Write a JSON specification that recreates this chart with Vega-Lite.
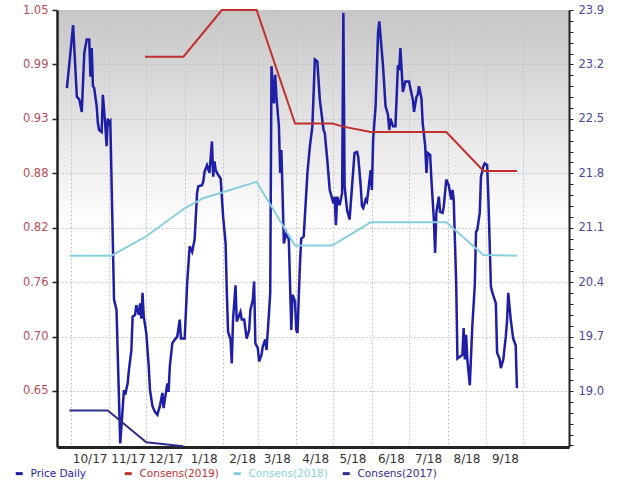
{
  "$schema": "https://vega.github.io/schema/vega-lite/v6.json",
  "width": 512,
  "height": 437,
  "autosize": {"type": "none"},
  "padding": {"left": 57, "top": 10, "right": 51, "bottom": 42},
  "background": "#ffffff",
  "config": {
    "view": {"stroke": null, "fill": {"gradient": "linear", "x1": 0, "y1": 0, "x2": 0, "y2": 1, "stops": [{"offset": 0, "color": "#c6c6c6"}, {"offset": 0.5, "color": "#ffffff"}, {"offset": 1, "color": "#ffffff"}]}},
    "font": "DejaVu Sans",
    "axis": {"labelFont": "DejaVu Sans", "labelFontSize": 11.5}
  },
  "datasets": {
    "price": [
      {"date": "2017-09-28", "price": 0.968}, {"date": "2017-10-03", "price": 1.034}, {"date": "2017-10-06", "price": 0.959}, {"date": "2017-10-08", "price": 0.956}, {"date": "2017-10-10", "price": 0.943}, {"date": "2017-10-12", "price": 1.005}, {"date": "2017-10-14", "price": 1.019}, {"date": "2017-10-16", "price": 1.019}, {"date": "2017-10-17", "price": 0.980}, {"date": "2017-10-18", "price": 1.010}, {"date": "2017-10-19", "price": 0.970}, {"date": "2017-10-20", "price": 0.968}, {"date": "2017-10-22", "price": 0.949}, {"date": "2017-10-23", "price": 0.931}, {"date": "2017-10-24", "price": 0.924}, {"date": "2017-10-26", "price": 0.922}, {"date": "2017-10-27", "price": 0.961}, {"date": "2017-10-28", "price": 0.945}, {"date": "2017-10-29", "price": 0.928}, {"date": "2017-10-30", "price": 0.907}, {"date": "2017-10-31", "price": 0.936}, {"date": "2017-11-01", "price": 0.931}, {"date": "2017-11-02", "price": 0.933},
      {"date": "2017-11-05", "price": 0.746}, {"date": "2017-11-07", "price": 0.735}, {"date": "2017-11-10", "price": 0.595}, {"date": "2017-11-13", "price": 0.651}, {"date": "2017-11-14", "price": 0.646}, {"date": "2017-11-16", "price": 0.658}, {"date": "2017-11-17", "price": 0.672}, {"date": "2017-11-19", "price": 0.693}, {"date": "2017-11-20", "price": 0.728}, {"date": "2017-11-22", "price": 0.730}, {"date": "2017-11-23", "price": 0.740}, {"date": "2017-11-25", "price": 0.730}, {"date": "2017-11-26", "price": 0.742}, {"date": "2017-11-27", "price": 0.726}, {"date": "2017-11-28", "price": 0.753}, {"date": "2017-11-29", "price": 0.728},
      {"date": "2017-12-01", "price": 0.711}, {"date": "2017-12-03", "price": 0.676}, {"date": "2017-12-04", "price": 0.651}, {"date": "2017-12-06", "price": 0.634}, {"date": "2017-12-08", "price": 0.628}, {"date": "2017-12-10", "price": 0.625}, {"date": "2017-12-11", "price": 0.630}, {"date": "2017-12-12", "price": 0.634}, {"date": "2017-12-14", "price": 0.648}, {"date": "2017-12-15", "price": 0.632}, {"date": "2017-12-16", "price": 0.641}, {"date": "2017-12-18", "price": 0.658}, {"date": "2017-12-19", "price": 0.649}, {"date": "2017-12-20", "price": 0.676}, {"date": "2017-12-22", "price": 0.700}, {"date": "2017-12-24", "price": 0.704}, {"date": "2017-12-26", "price": 0.707}, {"date": "2017-12-28", "price": 0.725}, {"date": "2017-12-29", "price": 0.705}, {"date": "2017-12-31", "price": 0.705},
      {"date": "2018-01-01", "price": 0.705}, {"date": "2018-01-03", "price": 0.763}, {"date": "2018-01-05", "price": 0.802}, {"date": "2018-01-07", "price": 0.796}, {"date": "2018-01-09", "price": 0.809}, {"date": "2018-01-11", "price": 0.858}, {"date": "2018-01-12", "price": 0.865}, {"date": "2018-01-15", "price": 0.866}, {"date": "2018-01-16", "price": 0.870}, {"date": "2018-01-17", "price": 0.880}, {"date": "2018-01-19", "price": 0.887}, {"date": "2018-01-21", "price": 0.879}, {"date": "2018-01-23", "price": 0.912}, {"date": "2018-01-24", "price": 0.875}, {"date": "2018-01-25", "price": 0.891}, {"date": "2018-01-26", "price": 0.882}, {"date": "2018-01-28", "price": 0.877}, {"date": "2018-01-30", "price": 0.873},
      {"date": "2018-02-01", "price": 0.833}, {"date": "2018-02-03", "price": 0.805}, {"date": "2018-02-04", "price": 0.753}, {"date": "2018-02-05", "price": 0.712}, {"date": "2018-02-07", "price": 0.704}, {"date": "2018-02-08", "price": 0.679}, {"date": "2018-02-09", "price": 0.725}, {"date": "2018-02-11", "price": 0.761}, {"date": "2018-02-12", "price": 0.723}, {"date": "2018-02-15", "price": 0.733}, {"date": "2018-02-16", "price": 0.725}, {"date": "2018-02-18", "price": 0.725}, {"date": "2018-02-20", "price": 0.705}, {"date": "2018-02-22", "price": 0.714}, {"date": "2018-02-23", "price": 0.735}, {"date": "2018-02-25", "price": 0.746}, {"date": "2018-02-26", "price": 0.765}, {"date": "2018-02-27", "price": 0.700},
      {"date": "2018-03-01", "price": 0.695}, {"date": "2018-03-02", "price": 0.681}, {"date": "2018-03-04", "price": 0.688}, {"date": "2018-03-05", "price": 0.697}, {"date": "2018-03-07", "price": 0.704}, {"date": "2018-03-08", "price": 0.693}, {"date": "2018-03-10", "price": 0.732}, {"date": "2018-03-11", "price": 0.753}, {"date": "2018-03-12", "price": 0.991}, {"date": "2018-03-14", "price": 0.952}, {"date": "2018-03-15", "price": 0.982}, {"date": "2018-03-16", "price": 0.959}, {"date": "2018-03-18", "price": 0.928}, {"date": "2018-03-19", "price": 0.879}, {"date": "2018-03-20", "price": 0.903}, {"date": "2018-03-22", "price": 0.805}, {"date": "2018-03-24", "price": 0.816}, {"date": "2018-03-26", "price": 0.809}, {"date": "2018-03-28", "price": 0.714}, {"date": "2018-03-29", "price": 0.751}, {"date": "2018-03-31", "price": 0.744},
      {"date": "2018-04-01", "price": 0.714}, {"date": "2018-04-02", "price": 0.711}, {"date": "2018-04-04", "price": 0.784}, {"date": "2018-04-05", "price": 0.810}, {"date": "2018-04-07", "price": 0.812}, {"date": "2018-04-10", "price": 0.879}, {"date": "2018-04-12", "price": 0.907}, {"date": "2018-04-14", "price": 0.928}, {"date": "2018-04-16", "price": 0.998}, {"date": "2018-04-18", "price": 0.996}, {"date": "2018-04-20", "price": 0.956}, {"date": "2018-04-23", "price": 0.924}, {"date": "2018-04-24", "price": 0.921}, {"date": "2018-04-26", "price": 0.893}, {"date": "2018-04-28", "price": 0.861},
      {"date": "2018-05-01", "price": 0.847}, {"date": "2018-05-02", "price": 0.854}, {"date": "2018-05-03", "price": 0.824}, {"date": "2018-05-04", "price": 0.854}, {"date": "2018-05-06", "price": 0.845}, {"date": "2018-05-08", "price": 0.858}, {"date": "2018-05-09", "price": 1.047}, {"date": "2018-05-10", "price": 0.865}, {"date": "2018-05-12", "price": 0.840}, {"date": "2018-05-14", "price": 0.830}, {"date": "2018-05-16", "price": 0.865}, {"date": "2018-05-18", "price": 0.900}, {"date": "2018-05-20", "price": 0.901}, {"date": "2018-05-21", "price": 0.896}, {"date": "2018-05-23", "price": 0.865}, {"date": "2018-05-24", "price": 0.844}, {"date": "2018-05-25", "price": 0.842}, {"date": "2018-05-27", "price": 0.851}, {"date": "2018-05-28", "price": 0.849}, {"date": "2018-05-29", "price": 0.859}, {"date": "2018-05-31", "price": 0.882},
      {"date": "2018-06-01", "price": 0.861}, {"date": "2018-06-02", "price": 0.914}, {"date": "2018-06-04", "price": 0.949}, {"date": "2018-06-06", "price": 1.027}, {"date": "2018-06-07", "price": 1.038}, {"date": "2018-06-08", "price": 1.022}, {"date": "2018-06-10", "price": 0.991}, {"date": "2018-06-12", "price": 0.949}, {"date": "2018-06-14", "price": 0.940}, {"date": "2018-06-15", "price": 0.924}, {"date": "2018-06-16", "price": 0.936}, {"date": "2018-06-18", "price": 0.928}, {"date": "2018-06-20", "price": 0.928}, {"date": "2018-06-22", "price": 0.992}, {"date": "2018-06-23", "price": 0.987}, {"date": "2018-06-24", "price": 1.010}, {"date": "2018-06-26", "price": 0.964}, {"date": "2018-06-28", "price": 0.975},
      {"date": "2018-07-01", "price": 0.975}, {"date": "2018-07-02", "price": 0.968}, {"date": "2018-07-04", "price": 0.956}, {"date": "2018-07-05", "price": 0.943}, {"date": "2018-07-07", "price": 0.959}, {"date": "2018-07-08", "price": 0.961}, {"date": "2018-07-09", "price": 0.970}, {"date": "2018-07-11", "price": 0.957}, {"date": "2018-07-12", "price": 0.931}, {"date": "2018-07-14", "price": 0.907}, {"date": "2018-07-15", "price": 0.879}, {"date": "2018-07-16", "price": 0.900}, {"date": "2018-07-18", "price": 0.898}, {"date": "2018-07-19", "price": 0.872}, {"date": "2018-07-21", "price": 0.830}, {"date": "2018-07-22", "price": 0.795}, {"date": "2018-07-23", "price": 0.837}, {"date": "2018-07-25", "price": 0.854}, {"date": "2018-07-26", "price": 0.838}, {"date": "2018-07-28", "price": 0.837}, {"date": "2018-07-29", "price": 0.844}, {"date": "2018-07-31", "price": 0.872},
      {"date": "2018-08-02", "price": 0.866}, {"date": "2018-08-04", "price": 0.851}, {"date": "2018-08-05", "price": 0.861}, {"date": "2018-08-06", "price": 0.851}, {"date": "2018-08-08", "price": 0.763}, {"date": "2018-08-09", "price": 0.684}, {"date": "2018-08-11", "price": 0.686}, {"date": "2018-08-13", "price": 0.688}, {"date": "2018-08-14", "price": 0.716}, {"date": "2018-08-15", "price": 0.683}, {"date": "2018-08-16", "price": 0.709}, {"date": "2018-08-17", "price": 0.683}, {"date": "2018-08-19", "price": 0.656}, {"date": "2018-08-21", "price": 0.718}, {"date": "2018-08-23", "price": 0.761}, {"date": "2018-08-24", "price": 0.817}, {"date": "2018-08-25", "price": 0.819}, {"date": "2018-08-27", "price": 0.837}, {"date": "2018-08-28", "price": 0.875}, {"date": "2018-08-30", "price": 0.886}, {"date": "2018-08-31", "price": 0.889},
      {"date": "2018-09-02", "price": 0.887}, {"date": "2018-09-03", "price": 0.851}, {"date": "2018-09-05", "price": 0.760}, {"date": "2018-09-06", "price": 0.754}, {"date": "2018-09-09", "price": 0.742}, {"date": "2018-09-10", "price": 0.690}, {"date": "2018-09-12", "price": 0.684}, {"date": "2018-09-13", "price": 0.674}, {"date": "2018-09-15", "price": 0.683}, {"date": "2018-09-17", "price": 0.707}, {"date": "2018-09-18", "price": 0.723}, {"date": "2018-09-19", "price": 0.753}, {"date": "2018-09-21", "price": 0.725}, {"date": "2018-09-23", "price": 0.705}, {"date": "2018-09-25", "price": 0.698}, {"date": "2018-09-26", "price": 0.653}
    ],
    "consensus": [
      {"date": "2017-11-30", "series": "Consens(2019)", "value": 23.30}, {"date": "2017-12-31", "series": "Consens(2019)", "value": 23.30}, {"date": "2018-01-31", "series": "Consens(2019)", "value": 23.90}, {"date": "2018-02-28", "series": "Consens(2019)", "value": 23.90}, {"date": "2018-03-31", "series": "Consens(2019)", "value": 22.44}, {"date": "2018-04-30", "series": "Consens(2019)", "value": 22.44}, {"date": "2018-05-09", "series": "Consens(2019)", "value": 22.40}, {"date": "2018-05-31", "series": "Consens(2019)", "value": 22.33}, {"date": "2018-07-31", "series": "Consens(2019)", "value": 22.33}, {"date": "2018-08-30", "series": "Consens(2019)", "value": 21.83}, {"date": "2018-09-26", "series": "Consens(2019)", "value": 21.83},
      {"date": "2017-09-30", "series": "Consens(2018)", "value": 20.74}, {"date": "2017-11-03", "series": "Consens(2018)", "value": 20.74}, {"date": "2017-12-01", "series": "Consens(2018)", "value": 20.99}, {"date": "2018-01-01", "series": "Consens(2018)", "value": 21.35}, {"date": "2018-01-16", "series": "Consens(2018)", "value": 21.48}, {"date": "2018-02-28", "series": "Consens(2018)", "value": 21.69}, {"date": "2018-03-31", "series": "Consens(2018)", "value": 20.87}, {"date": "2018-04-30", "series": "Consens(2018)", "value": 20.87}, {"date": "2018-05-31", "series": "Consens(2018)", "value": 21.17}, {"date": "2018-07-31", "series": "Consens(2018)", "value": 21.17}, {"date": "2018-08-30", "series": "Consens(2018)", "value": 20.75}, {"date": "2018-09-26", "series": "Consens(2018)", "value": 20.74},
      {"date": "2017-09-30", "series": "Consens(2017)", "value": 18.75}, {"date": "2017-10-31", "series": "Consens(2017)", "value": 18.75}, {"date": "2017-12-01", "series": "Consens(2017)", "value": 18.34}, {"date": "2017-12-31", "series": "Consens(2017)", "value": 18.29}
    ]
  },
  "layer": [
    {
      "data": {"name": "price"},
      "mark": {"type": "line", "strokeWidth": 2.5},
      "encoding": {
        "x": {
          "field": "date", "type": "temporal",
          "scale": {"type": "utc", "nice": false, "domain": [{"year": 2017, "month": 9, "date": 20, "utc": true}, {"year": 2018, "month": 11, "date": 7, "utc": true}]},
          "axis": {
            "title": null,
            "values": [
              {"year": 2017, "month": 10, "date": 1, "utc": true}, {"year": 2017, "month": 11, "date": 1, "utc": true}, {"year": 2017, "month": 12, "date": 1, "utc": true},
              {"year": 2018, "month": 1, "date": 1, "utc": true}, {"year": 2018, "month": 2, "date": 1, "utc": true}, {"year": 2018, "month": 3, "date": 1, "utc": true},
              {"year": 2018, "month": 4, "date": 1, "utc": true}, {"year": 2018, "month": 5, "date": 1, "utc": true}, {"year": 2018, "month": 6, "date": 1, "utc": true},
              {"year": 2018, "month": 7, "date": 1, "utc": true}, {"year": 2018, "month": 8, "date": 1, "utc": true}, {"year": 2018, "month": 9, "date": 1, "utc": true},
              {"year": 2018, "month": 10, "date": 1, "utc": true}
            ],
            "labelExpr": "utcyear(datum.value) == 2018 && utcmonth(datum.value) == 9 ? '' : utcFormat(datum.value, '%-m/%y')",
            "labelOffset": 19,
            "labelAngle": 0,
            "labelOverlap": false,
            "labelFontSize": 12,
            "labelColor": "#333333",
            "labelPadding": 6,
            "ticks": false,
            "grid": true,
            "gridDash": [2, 2],
            "gridColor": "#c4c4c4",
            "domainColor": "#222222",
            "domainWidth": 3
          }
        },
        "y": {
          "field": "price", "type": "quantitative",
          "scale": {"domain": [0.5912, 1.05], "nice": false, "zero": false},
          "axis": {
            "orient": "left",
            "title": null,
            "values": [0.65, 0.707143, 0.764286, 0.821429, 0.878571, 0.935714, 0.992857, 1.05],
            "labelExpr": "['0.65','0.70','0.76','0.82','0.88','0.93','0.99','1.05'][round((datum.value - 0.65) / 0.0571429)]",
            "labelColor": "#b84e55",
            "labelPadding": 4,
            "labelOverlap": false,
            "tickSize": 5,
            "tickColor": "#222222",
            "tickWidth": 1.5,
            "grid": true,
            "gridDash": [2, 2],
            "gridColor": "#c4c4c4",
            "domainColor": "#222222",
            "domainWidth": 2.5
          }
        },
        "color": {"datum": "Price Daily"}
      }
    },
    {
      "data": {"name": "consensus"},
      "mark": {"type": "line", "strokeWidth": 2},
      "encoding": {
        "x": {"field": "date", "type": "temporal"},
        "y": {
          "field": "value", "type": "quantitative",
          "scale": {"domain": [18.28, 23.9], "nice": false, "zero": false},
          "axis": {
            "orient": "right",
            "title": null,
            "values": [18.3, 18.44, 18.58, 18.72, 18.86, 19.0, 19.14, 19.28, 19.42, 19.56, 19.7, 19.84, 19.98, 20.12, 20.26, 20.4, 20.54, 20.68, 20.82, 20.96, 21.1, 21.24, 21.38, 21.52, 21.66, 21.8, 21.94, 22.08, 22.22, 22.36, 22.5, 22.64, 22.78, 22.92, 23.06, 23.2, 23.34, 23.48, 23.62, 23.76, 23.9],
            "labelExpr": "datum.value > 18.9 && abs((datum.value - 19.0) / 0.7 - round((datum.value - 19.0) / 0.7)) < 0.01 ? format(datum.value, '.1f') : ''",
            "labelColor": "#4848a0",
            "labelPadding": 5,
            "labelOverlap": false,
            "tickSize": 4,
            "tickColor": "#222222",
            "grid": false,
            "domainColor": "#222222",
            "domainWidth": 2
          }
        },
        "color": {
          "field": "series", "type": "nominal",
          "scale": {"domain": ["Price Daily", "Consens(2019)", "Consens(2018)", "Consens(2017)"], "range": ["#1e1ea6", "#c0302c", "#88cfde", "#2e2e8c"]},
          "legend": {
            "title": null,
            "orient": "none",
            "legendX": -43,
            "legendY": 458,
            "direction": "horizontal",
            "columns": 4,
            "gridAlign": "all",
            "columnPadding": 8,
            "symbolType": "stroke",
            "symbolSize": 49,
            "symbolStrokeWidth": 3,
            "labelFont": "DejaVu Sans",
            "labelFontSize": 10.5,
            "labelOffset": 6,
            "encode": {"labels": {"update": {"fill": {"scale": "color", "field": "value"}}}}
          }
        }
      }
    }
  ],
  "resolve": {"scale": {"y": "independent"}}
}
